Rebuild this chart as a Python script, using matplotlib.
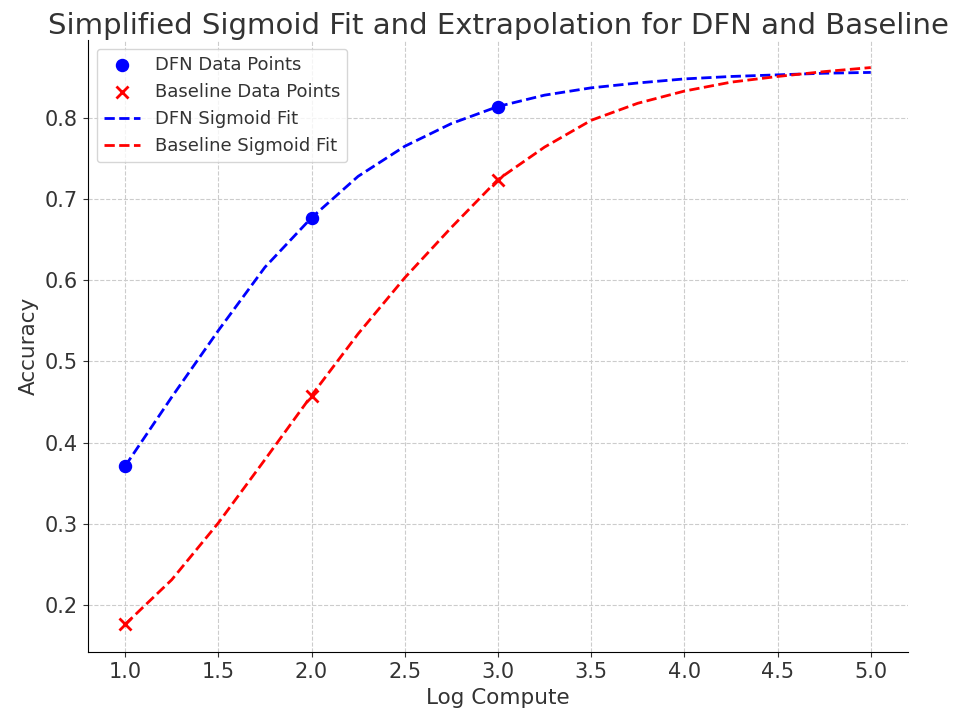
import matplotlib
matplotlib.use("Agg")
import matplotlib.pyplot as plt

# measured data points
x_data = [1, 2, 3]
dfn_acc = [0.371, 0.677, 0.814]
base_acc = [0.176, 0.458, 0.724]

# fitted curves, every 0.25
x_fit = [1.0, 1.25, 1.5, 1.75, 2.0, 2.25, 2.5, 2.75, 3.0,
         3.25, 3.5, 3.75, 4.0, 4.25, 4.5, 4.75, 5.0]
dfn_fit = [0.371, 0.456, 0.538, 0.616, 0.677, 0.728, 0.765, 0.793, 0.814,
           0.828, 0.837, 0.843, 0.848, 0.851, 0.853, 0.855, 0.856]
base_fit = [0.176, 0.231, 0.301, 0.379, 0.458, 0.534, 0.603, 0.665, 0.724,
            0.764, 0.797, 0.818, 0.833, 0.844, 0.851, 0.857, 0.862]

plt.rcParams['text.color'] = '#333333'
plt.rcParams['axes.labelcolor'] = '#333333'
plt.rcParams['xtick.color'] = '#333333'
plt.rcParams['ytick.color'] = '#333333'

fig, ax = plt.subplots(figsize=(9.65, 7.09), dpi=100)
fig.subplots_adjust(left=0.091, right=0.941, top=0.944, bottom=0.080)

ax.scatter(x_data, dfn_acc, color='blue', s=75, label='DFN Data Points', zorder=3)
ax.scatter(x_data, base_acc, color='red', marker='x', s=75, linewidths=2,
           label='Baseline Data Points', zorder=3)
ax.plot(x_fit, dfn_fit, color='blue', linestyle='--', linewidth=2, label='DFN Sigmoid Fit')
ax.plot(x_fit, base_fit, color='red', linestyle='--', linewidth=2, label='Baseline Sigmoid Fit')

ax.set_title('Simplified Sigmoid Fit and Extrapolation for DFN and Baseline',
             fontsize=21, pad=4)
ax.set_xlabel('Log Compute', fontsize=15.5)
ax.set_ylabel('Accuracy', fontsize=15.5)
ax.tick_params(labelsize=15)
ax.grid(True, linestyle='--', color='#cccccc', linewidth=0.8)
ax.spines['top'].set_visible(False)
ax.spines['right'].set_visible(False)
ax.legend(loc='upper left', fontsize=13)

fig.savefig('out.png', dpi=100)
